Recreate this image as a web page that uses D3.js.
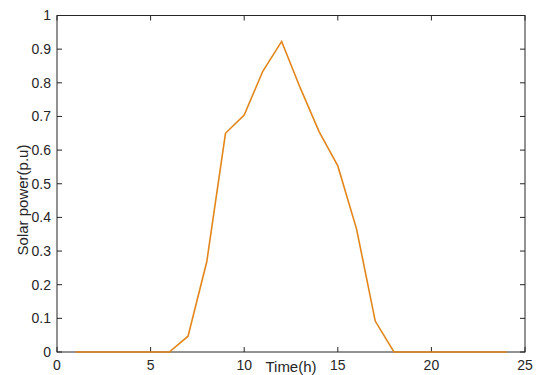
<!DOCTYPE html>
<html>
<head>
<meta charset="utf-8">
<script src="https://cdn.jsdelivr.net/npm/d3@7"></script>
<style>
  body { margin: 0; background: #fff; }
  svg { display: block; font-family: "Liberation Sans", Arial, sans-serif; }
</style>
</head>
<body>
<svg id="chart" width="541" height="375"></svg>
<script>
// Solar power profile over one day
const hours = [1, 2, 3, 4, 5, 6, 7, 8, 9, 10, 11, 12, 13, 14, 15, 16, 17, 18, 19, 20, 21, 22, 23, 24];
const solarPower = [0, 0, 0, 0, 0, 0, 0.047, 0.268, 0.650, 0.704, 0.835, 0.923, 0.784, 0.655, 0.553, 0.366, 0.092, 0, 0, 0, 0, 0, 0, 0];
const xTicks = [0, 5, 10, 15, 20, 25];
const yTicks = [0, 0.1, 0.2, 0.3, 0.4, 0.5, 0.6, 0.7, 0.8, 0.9, 1];

const margin = { top: 15.5, right: 16, bottom: 23, left: 57 };
const svg = d3.select('#chart');
const W = 541 - margin.left - margin.right;
const H = 375 - margin.top - margin.bottom;
const g = svg.append('g').attr('transform', `translate(${margin.left},${margin.top})`);

const x = d3.scaleLinear().domain([0, 25]).range([0, W]);
const y = d3.scaleLinear().domain([0, 1]).range([H, 0]);

const axisColor = '#262626';
const tickLen = 5;

// Box
g.append('rect')
  .attr('width', W).attr('height', H)
  .attr('fill', 'none').attr('stroke', axisColor).attr('stroke-width', 1);

// Tick marks (inside, mirrored)
const ticks = g.append('g').attr('stroke', axisColor).attr('stroke-width', 1);
xTicks.forEach(t => {
  ticks.append('line').attr('x1', x(t)).attr('x2', x(t)).attr('y1', H).attr('y2', H - tickLen);
  ticks.append('line').attr('x1', x(t)).attr('x2', x(t)).attr('y1', 0).attr('y2', tickLen);
});
yTicks.forEach(t => {
  ticks.append('line').attr('y1', y(t)).attr('y2', y(t)).attr('x1', 0).attr('x2', tickLen);
  ticks.append('line').attr('y1', y(t)).attr('y2', y(t)).attr('x1', W).attr('x2', W - tickLen);
});

// Tick labels
g.append('g').selectAll('text').data(xTicks).join('text')
  .attr('x', d => x(d)).attr('y', H + 18)
  .attr('text-anchor', 'middle')
  .attr('font-size', 14).attr('fill', axisColor)
  .text(d => d);

g.append('g').selectAll('text').data(yTicks).join('text')
  .attr('x', -6).attr('y', d => y(d)).attr('dy', '0.35em')
  .attr('text-anchor', 'end')
  .attr('font-size', 14).attr('fill', axisColor)
  .text(d => d3.format('~g')(d));

// Line
const line = d3.line().x((d, i) => x(hours[i])).y(d => y(d));
g.append('path')
  .datum(solarPower)
  .attr('fill', 'none')
  .attr('stroke', '#E2861A')
  .attr('stroke-width', 1.6)
  .attr('d', line);

// Axis titles
svg.append('text')
  .attr('x', 291).attr('y', 372)
  .attr('text-anchor', 'middle')
  .attr('font-size', 15).attr('fill', axisColor)
  .text('Time(h)');

svg.append('text')
  .attr('transform', 'translate(28,200) rotate(-90)')
  .attr('text-anchor', 'middle')
  .attr('font-size', 15).attr('fill', axisColor)
  .text('Solar power(p.u)');
</script>
</body>
</html>
